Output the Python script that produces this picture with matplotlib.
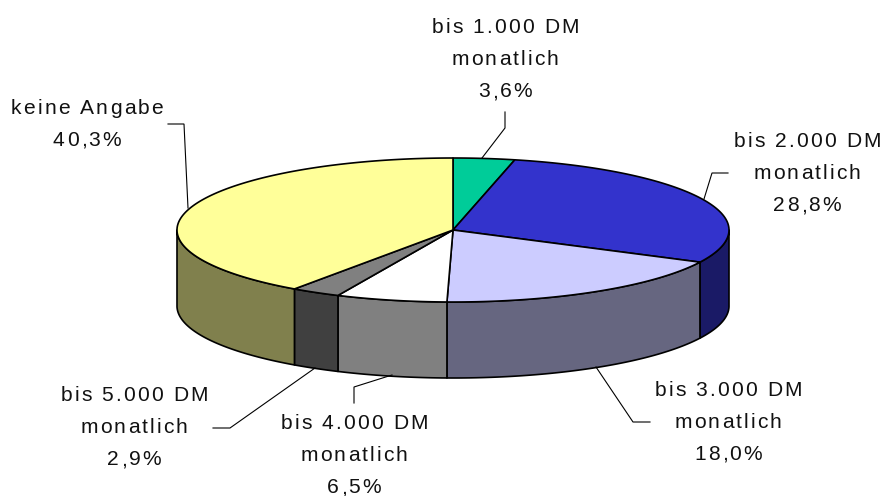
import numpy as np
import matplotlib
matplotlib.use('Agg')
import matplotlib.pyplot as plt
from matplotlib.font_manager import findfont, get_font
from matplotlib.ft2font import LoadFlags
from matplotlib.patches import Polygon
from matplotlib.text import Text
from matplotlib.transforms import Bbox, IdentityTransform

labels = ['bis 1.000 DM\nmonatlich\n3,6%', 'bis 2.000 DM\nmonatlich\n28,8%',
          'bis 3.000 DM\nmonatlich\n18,0%', 'bis 4.000 DM\nmonatlich\n6,5%',
          'bis 5.000 DM\nmonatlich\n2,9%', 'keine Angabe\n40,3%']
shares = [3.6, 28.8, 18.0, 6.5, 2.9, 40.3]
top_colors = ['#00CC99', '#3333CC', '#CCCCFF', '#FFFFFF', '#808080', '#FFFF99']
side_colors = ['#006650', '#1A1A66', '#666680', '#808080', '#404040', '#80804D']

# mittelpunkt und halbachsen der torte, in pixeln
CX, CY = 453, 230
RX, RY = 276, 72
DEPTH = 76

# mitte der beschriftung und grundlinie der ersten zeile
label_pos = [(505, 33), (807, 147), (728, 396), (354, 429), (134, 401), (87, 114)]
leaders = [[(505, 112), (505, 128), (482, 158)],
           [(728, 173), (712, 173), (704, 199)],
           [(650, 422), (633, 422), (596, 367)],
           [(354, 403), (354, 387), (392, 375)],
           [(213, 428), (230, 428), (315, 368)],
           [(168, 124), (184, 124), (188, 208)]]

LINE_STEP = 32
SPACING = 2.15
FONT_PX = 21


class SpacedText(Text):
    # matplotlib kennt keine laufweite, darum zeichen einzeln ausgeben
    def advances(self):
        font = get_font(findfont(self.get_fontproperties()))
        font.set_size(self.get_fontsize(), self.get_figure().dpi)
        adv = []
        for c in self.get_text():
            glyph = font.load_char(ord(c), flags=LoadFlags.NO_HINTING)
            adv.append(glyph.linearHoriAdvance / 65536 + SPACING)
        return adv

    def get_window_extent(self, renderer=None, dpi=None):
        x, y = self.get_transform().transform(self.get_position())
        width = sum(self.advances()) - SPACING
        h = self.get_fontsize() * self.get_figure().dpi / 72
        return Bbox([[x - width / 2, y - 0.2 * h], [x + width / 2, y + 0.75 * h]])

    def draw(self, renderer):
        adv = self.advances()
        x, y = self.get_transform().transform(self.get_position())
        x -= (sum(adv) - SPACING) / 2
        for c, a in zip(self.get_text(), adv):
            t = Text(x, y, c, color=self.get_color(), va='baseline', ha='left',
                     fontproperties=self.get_fontproperties(),
                     transform=IdentityTransform())
            t.set_figure(self.get_figure())
            t.draw(renderer)
            x += a


def rim(a, b, drop=0):
    t = np.radians(np.linspace(a, b, max(int(abs(b - a)) * 2, 2)))
    return np.column_stack((CX + RX * np.sin(t), CY - RY * np.cos(t) + drop))


plt.rcParams['font.family'] = ['Liberation Sans', 'DejaVu Sans']
fig = plt.figure(figsize=(8.84, 4.96), dpi=100)
ax = fig.add_axes([0, 0, 1, 1])
ax.set_xlim(0, 884)
ax.set_ylim(496, 0)
ax.axis('off')

ends = np.cumsum(shares) / sum(shares) * 360
starts = np.concatenate(([0], ends[:-1]))

# seitenwand: nur der vordere teil der ellipse (90..270 grad) ist sichtbar
for a, b, col in zip(starts, ends, side_colors):
    lo, hi = max(a, 90), min(b, 270)
    if lo >= hi:
        continue
    pts = np.vstack((rim(lo, hi), rim(hi, lo, DEPTH)))
    ax.add_patch(Polygon(pts, closed=True, fc=col, ec='black', lw=1.2, joinstyle='round'))

for a, b, col in zip(starts, ends, top_colors):
    pts = np.vstack(([(CX, CY)], rim(a, b)))
    ax.add_patch(Polygon(pts, closed=True, fc=col, ec='black', lw=1.2, joinstyle='round'))

for pts in leaders:
    xs, ys = zip(*pts)
    ax.plot(xs, ys, color='black', lw=0.8, solid_joinstyle='miter')

for label, (x, y) in zip(labels, label_pos):
    for i, line in enumerate(label.split('\n')):
        t = SpacedText(x, y + i * LINE_STEP, line, fontsize=FONT_PX * 72 / 100, color='#111111')
        ax.add_artist(t)

fig.savefig('out.png', dpi=100)
